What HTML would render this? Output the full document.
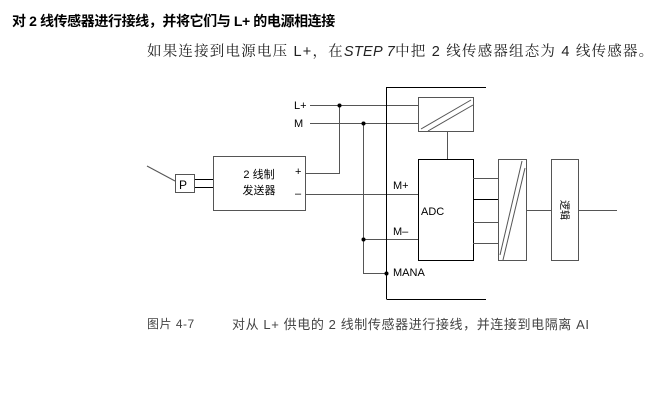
<!DOCTYPE html>
<html><head><meta charset="utf-8"><style>
body{margin:0;width:652px;height:400px;background:#fff;overflow:hidden;position:relative;font-family:"Liberation Sans","Noto Sans CJK SC",sans-serif}
.t{position:absolute;white-space:nowrap}
</style></head><body>
<div class="t" style="left:12px;top:11px;font-size:14px;font-weight:bold;color:#000;letter-spacing:-0.4px">对 2 线传感器进行接线，并将它们与 L+ 的电源相连接</div>
<div class="t" style="left:147px;top:40px;font-size:14.5px;color:#222;letter-spacing:1.2px;font-family:'Liberation Sans','Noto Serif CJK SC',serif">如果连接到电源电压 L+，在<i style="font-family:'Liberation Sans',sans-serif;letter-spacing:0.3px">STEP 7</i>中把 2 线传感器组态为 4 线传感器。</div>
<div class="t" style="left:147px;top:315px;font-size:12px;color:#444;letter-spacing:0.5px">图片 4-7</div>
<div class="t" style="left:232px;top:314px;font-size:13px;color:#444;letter-spacing:0.6px">对从 L+ 供电的 2 线制传感器进行接线，并连接到电隔离 AI</div>
<svg width="652" height="400" style="position:absolute;left:0;top:0" font-family="Liberation Sans, Noto Sans CJK SC, sans-serif" font-size="11">
<g stroke="#555" stroke-width="1" fill="none">
<line x1="310" y1="105.5" x2="418" y2="105.5"/>
<line x1="310" y1="123.5" x2="418" y2="123.5"/>
<polyline points="306,173.5 339.5,173.5 339.5,105.5"/>
<line x1="306" y1="194.5" x2="418" y2="194.5"/>
<polyline points="363.5,123.5 363.5,273.5 387,273.5"/>
<line x1="363.5" y1="239.5" x2="418" y2="239.5"/>
<rect x="213.5" y="156.5" width="92" height="54"/>
<rect x="175.5" y="174.5" width="19" height="18"/>
<line x1="195" y1="179.5" x2="213" y2="179.5" stroke="#000"/>
<line x1="195" y1="187.5" x2="213" y2="187.5" stroke="#000"/>
<line x1="147" y1="166" x2="175" y2="181"/>
<line x1="386.5" y1="87" x2="386.5" y2="299" stroke="#000"/>
<polyline points="386.5,87.5 486,87.5" stroke="#000"/>
<polyline points="386.5,299.5 486,299.5" stroke="#000"/>
<rect x="418.5" y="97.5" width="55" height="34"/>
<line x1="421" y1="129" x2="471" y2="100"/>
<line x1="428" y1="131" x2="473" y2="105"/>
<line x1="447.5" y1="132" x2="447.5" y2="159"/>
<rect x="418.5" y="159.5" width="55" height="101" stroke="#000"/>
<line x1="473" y1="178.5" x2="498" y2="178.5"/>
<line x1="473" y1="199.5" x2="498" y2="199.5" stroke="#000"/>
<line x1="473" y1="222.5" x2="498" y2="222.5"/>
<line x1="473" y1="243.5" x2="498" y2="243.5"/>
<rect x="498.5" y="159.5" width="28" height="101"/>
<line x1="500" y1="255" x2="522" y2="161"/>
<line x1="503" y1="260" x2="525" y2="168"/>
<line x1="527" y1="210.5" x2="551" y2="210.5"/>
<rect x="551.5" y="159.5" width="27" height="101"/>
<line x1="579" y1="210.5" x2="617" y2="210.5"/>
</g>
<g fill="#000">
<circle cx="339.5" cy="105.5" r="2"/><circle cx="363.5" cy="123.5" r="2"/>
<circle cx="363.5" cy="239.5" r="2"/><circle cx="386.5" cy="273.5" r="2"/>
<text x="294" y="109">L+</text><text x="294" y="127">M</text>
<text x="179" y="189" font-size="12">P</text>
<text x="259" y="178" text-anchor="middle">2 线制</text>
<text x="259" y="194" text-anchor="middle">发送器</text>
<text x="295" y="175">+</text><text x="295" y="197">–</text>
<text x="393" y="189">M+</text><text x="393" y="235">M–</text>
<text x="393" y="276">MANA</text>
<text x="421" y="215">ADC</text>
<g transform="translate(565 210) rotate(90)"><text x="0" y="4" text-anchor="middle" font-size="10">逻辑</text></g>
</g>
</svg>
</body></html>
